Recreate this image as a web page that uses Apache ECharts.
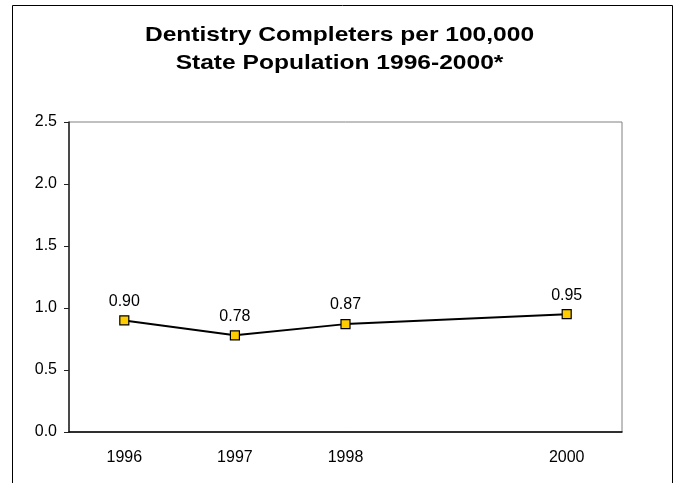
<!DOCTYPE html>
<html><head><meta charset="utf-8">
<script src="https://cdn.jsdelivr.net/npm/echarts@6/dist/echarts.min.js"></script>
<style>html,body{margin:0;padding:0;background:#fff}#c{width:681px;height:483px}</style>
</head><body><div id="c"></div>
<script>
var titleLines = ['Dentistry Completers per 100,000', 'State Population 1996-2000*'];
var years = [1996, 1997, 1998, 2000];
var values = [0.90, 0.78, 0.87, 0.95];

var FONT = 'Liberation Sans, Arial, sans-serif';
var chart = echarts.init(document.getElementById('c'), null, {renderer: 'canvas'});
chart.setOption({
  animation: false,
  backgroundColor: '#fff',
  textStyle: {fontFamily: FONT},
  graphic: [
    {type: 'rect', shape: {x: 12.5, y: 5.5, width: 660, height: 500}, style: {fill: 'none', stroke: '#000', lineWidth: 1}, z: -1},
    {type: 'text', x: 339.5, y: 35, scaleX: 1.17,
      style: {text: titleLines[0], font: 'bold 21px ' + FONT, fill: '#000', textAlign: 'center', textVerticalAlign: 'middle'}},
    {type: 'text', x: 339.5, y: 63, scaleX: 1.17,
      style: {text: titleLines[1], font: 'bold 21px ' + FONT, fill: '#000', textAlign: 'center', textVerticalAlign: 'middle'}}
  ],
  grid: {left: 69, top: 122, right: 59, bottom: 51, show: true, borderColor: '#808080', borderWidth: 1},
  xAxis: {
    type: 'value', min: 1995.5, max: 2000.5, interval: 0.5,
    axisLine: {lineStyle: {color: '#000', width: 1.5}},
    axisTick: {show: false},
    splitLine: {show: false},
    axisLabel: {
      fontSize: 16, color: '#000', margin: 18,
      formatter: function (v) { return years.indexOf(v) >= 0 ? String(v) : ''; }
    }
  },
  yAxis: {
    type: 'value', min: 0, max: 2.5, interval: 0.5,
    axisLine: {show: true, lineStyle: {color: '#222', width: 1.5}},
    axisTick: {show: true, length: 5, lineStyle: {color: '#222'}},
    splitLine: {show: false},
    axisLabel: {fontSize: 16, color: '#000', margin: 12, formatter: function (v) { return v.toFixed(1); }}
  },
  series: [{
    type: 'line',
    data: years.map(function (y, i) { return [y, values[i]]; }),
    lineStyle: {color: '#000', width: 2},
    symbol: 'rect', symbolSize: 9,
    itemStyle: {color: '#FFCC00', borderColor: '#000', borderWidth: 1.2},
    label: {show: true, position: 'top', distance: 6, fontSize: 16, color: '#000',
      formatter: function (p) { return p.value[1].toFixed(2); }}
  }]
});
</script></body></html>
